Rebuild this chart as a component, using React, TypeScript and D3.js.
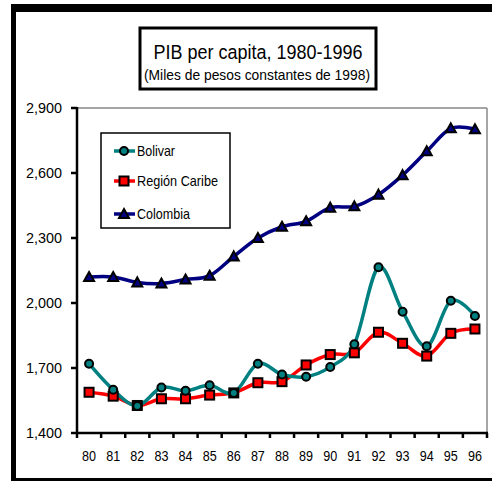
import React from "react";
import * as d3 from "d3";

const years = ["80","81","82","83","84","85","86","87","88","89","90","91","92","93","94","95","96"];
const bolivar = [1720,1600,1525,1610,1595,1620,1585,1720,1670,1660,1705,1810,2165,1960,1800,2010,1940];
const caribe = [1588,1570,1527,1558,1558,1575,1585,1632,1637,1714,1762,1770,1865,1814,1755,1860,1880];
const colombia = [2120,2120,2095,2090,2108,2126,2215,2300,2352,2377,2440,2446,2500,2590,2700,2806,2802];
const yTicks = [1400,1700,2000,2300,2600,2900];
const seriesNames = ["Bolivar","Región Caribe","Colombia"];

const FONT = "'Liberation Sans', Arial, sans-serif";

export default function App() {
  const left = 77, right = 487, top = 108, bottom = 433;
  const x = d3.scaleBand().domain(years).range([left, right]);
  const y = d3.scaleLinear().domain([1400, 2900]).range([bottom, top]);
  const line = d3.line<number>()
    .x((_, i) => (x(years[i]) as number) + x.bandwidth() / 2)
    .y(d => y(d))
    .curve(d3.curveCardinal.tension(0));
  const cx = (i: number) => (x(years[i]) as number) + x.bandwidth() / 2;

  const tri = (px: number, py: number, s: number) =>
    `M${px},${py - s}L${px + s},${py + s * 0.8}L${px - s},${py + s * 0.8}Z`;

  const legendY = [151, 181, 214];

  return (
    <svg width={492} height={483} style={{ position: "absolute", left: 0, top: 0, background: "#fff" }}>
      {/* outer frame */}
      <rect x={0} y={0} width={492} height={483} fill="#fff" />
      <rect x={11} y={4} width={481} height={8} fill="#000" />
      <rect x={11} y={4} width={5} height={477} fill="#000" />
      <rect x={11} y={478} width={481} height={3} fill="#000" />

      {/* title box */}
      <rect x={140} y={28} width={236} height={61} fill="#fff" stroke="#000" strokeWidth={3} />
      <text x={258} y={59} textAnchor="middle" fontFamily={FONT} fontSize={20.5}
        textLength={209} lengthAdjust="spacingAndGlyphs">PIB per capita, 1980-1996</text>
      <text x={257} y={80} textAnchor="middle" fontFamily={FONT} fontSize={15}
        textLength={226} lengthAdjust="spacingAndGlyphs">(Miles de pesos constantes de 1998)</text>

      {/* plot border */}
      <line x1={left} x2={right} y1={top} y2={top} stroke="#888" strokeWidth={1.5} />
      <line x1={right} x2={right} y1={top} y2={bottom} stroke="#888" strokeWidth={1.5} />

      {/* y axis */}
      <line x1={left} x2={left} y1={top - 1} y2={bottom + 1} stroke="#000" strokeWidth={2.5} />
      {yTicks.map(t => (
        <g key={t}>
          <line x1={left - 6} x2={left} y1={y(t)} y2={y(t)} stroke="#000" strokeWidth={2.5} />
          <text x={62} y={y(t) + 5} textAnchor="end" fontFamily={FONT} fontSize={15}
            textLength={36} lengthAdjust="spacingAndGlyphs">{d3.format(",")(t)}</text>
        </g>
      ))}

      {/* x axis */}
      <line x1={left - 1} x2={right + 1} y1={bottom} y2={bottom} stroke="#000" strokeWidth={2.5} />
      {years.map((yr, i) => (
        <g key={yr}>
          <line x1={(x(yr) as number) + x.bandwidth()} x2={(x(yr) as number) + x.bandwidth()}
            y1={bottom} y2={bottom + 5} stroke="#000" strokeWidth={2.5} />
          <text x={cx(i)} y={461} textAnchor="middle" fontFamily={FONT} fontSize={15}
            textLength={14} lengthAdjust="spacingAndGlyphs">{yr}</text>
        </g>
      ))}
      <line x1={left} x2={left} y1={bottom} y2={bottom + 5} stroke="#000" strokeWidth={2.5} />

      {/* lines */}
      <path d={line(colombia) || ""} fill="none" stroke="#000080" strokeWidth={3.5} />
      <path d={line(caribe) || ""} fill="none" stroke="#ff0000" strokeWidth={3.5} />
      <path d={line(bolivar) || ""} fill="none" stroke="#008080" strokeWidth={3.5} />

      {/* markers */}
      {colombia.map((v, i) => (
        <path key={"c" + i} d={tri(cx(i), y(v), 5)} fill="#000080" stroke="#000" strokeWidth={2} />
      ))}
      {caribe.map((v, i) => (
        <rect key={"r" + i} x={cx(i) - 4.5} y={y(v) - 4.5} width={9} height={9} fill="#ff0000" stroke="#000" strokeWidth={2} />
      ))}
      {bolivar.map((v, i) => (
        <circle key={"b" + i} cx={cx(i)} cy={y(v)} r={4} fill="#008080" stroke="#000" strokeWidth={2} />
      ))}

      {/* legend */}
      <rect x={101} y={133} width={129} height={95} fill="#fff" stroke="#000" strokeWidth={1.5} />
      {seriesNames.map((n, i) => {
        const ly = legendY[i];
        const col = ["#008080", "#ff0000", "#000080"][i];
        const widths = [38, 81, 53];
        return (
          <g key={n}>
            <line x1={114} x2={135} y1={ly} y2={ly} stroke={col} strokeWidth={3.5} />
            {i === 0 && <circle cx={124} cy={ly} r={4} fill="#008080" stroke="#000" strokeWidth={2} />}
            {i === 1 && <rect x={119.5} y={ly - 4.5} width={9} height={9} fill="#ff0000" stroke="#000" strokeWidth={2} />}
            {i === 2 && <path d={tri(124, ly, 5)} fill="#000080" stroke="#000" strokeWidth={2} />}
            <text x={137} y={ly + 5} fontFamily={FONT} fontSize={15}
              textLength={widths[i]} lengthAdjust="spacingAndGlyphs">{n}</text>
          </g>
        );
      })}
    </svg>
  );
}
